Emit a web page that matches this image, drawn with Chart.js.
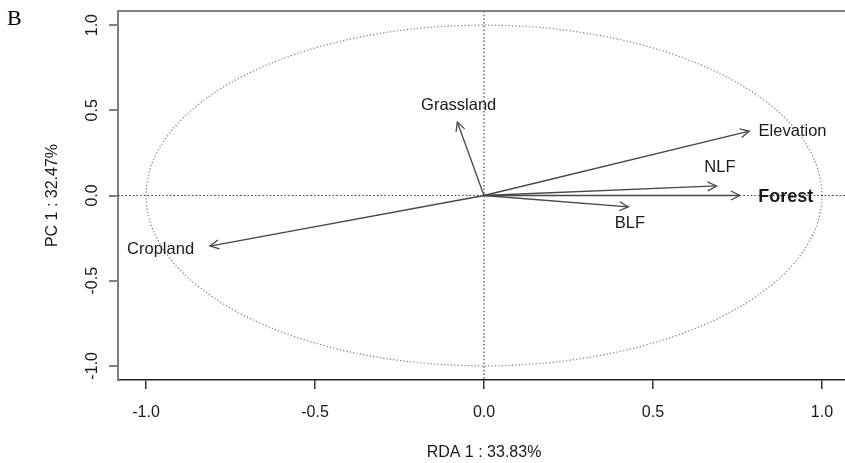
<!DOCTYPE html>
<html>
<head>
<meta charset="utf-8">
<script src="https://cdn.jsdelivr.net/npm/chart.js@4"></script>
<style>
  html, body { margin: 0; padding: 0; background: #fff; }
  #wrap { width: 845px; height: 463px; overflow: hidden; position: relative; }
  #inner { width: 852px; height: 463px; }
</style>
</head>
<body>
<div id="wrap"><div id="inner"><canvas id="c" width="852" height="463"></canvas></div></div>
<script>
// ---- data ----
const categories = ['Elevation', 'NLF', 'Forest', 'BLF', 'Grassland', 'Cropland'];
const arrowX = [0.785, 0.688, 0.757, 0.427, -0.079, -0.811];
const arrowY = [0.378, 0.056, 0.000, -0.067, 0.431, -0.297];
const labelX = [0.913, 0.698, 0.893, 0.432, -0.075, -0.957];
const labelY = [0.377, 0.163, -0.010, -0.165, 0.526, -0.315];
const boldCategories = ['Forest'];
const tickValues = [-1.0, -0.5, 0.0, 0.5, 1.0];
const tickLabels = ['-1.0', '-0.5', '0.0', '0.5', '1.0'];
const axisMin = -1.083;
const axisMax = 1.083;
const circleRadius = 1;
const xTitle = 'RDA 1 : 33.83%';
const yTitle = 'PC 1 : 32.47%';
const panelLabel = 'B';

const FONT = '"Liberation Sans", Arial, sans-serif';
const TEXT = '#1a1a1a';

const datasets = categories.map((c, i) => ({
  label: c,
  data: [{ x: 0, y: 0 }, { x: arrowX[i], y: arrowY[i] }],
  showLine: true,
  borderColor: '#474747',
  borderWidth: 1.3,
  pointRadius: 0,
  fill: false
}));

const setTicks = (scale) => { scale.ticks = tickValues.map(v => ({ value: v })); };

const decorPlugin = {
  id: 'decor',
  beforeDatasetsDraw(chart) {
    const { ctx, chartArea: a, scales: { x, y } } = chart;
    const cx = x.getPixelForValue(0), cy = y.getPixelForValue(0);
    ctx.save();
    // correlation circle
    ctx.beginPath();
    ctx.setLineDash([1.2, 2.2]);
    ctx.lineWidth = 1.2;
    ctx.strokeStyle = '#7a7a7a';
    ctx.ellipse(cx, cy, x.getPixelForValue(circleRadius) - cx, cy - y.getPixelForValue(circleRadius), 0, 0, Math.PI * 2);
    ctx.stroke();
    // zero lines
    ctx.strokeStyle = '#333';
    ctx.lineWidth = 1.1;
    ctx.setLineDash([1.5, 2.2]);
    ctx.beginPath();
    ctx.moveTo(a.left, cy); ctx.lineTo(a.right, cy);
    ctx.moveTo(cx, a.top); ctx.lineTo(cx, a.bottom);
    ctx.stroke();
    ctx.restore();
  },
  afterDatasetsDraw(chart) {
    const { ctx, scales: { x, y } } = chart;
    ctx.save();
    // arrow heads
    ctx.strokeStyle = '#474747';
    ctx.lineWidth = 1.3;
    ctx.setLineDash([]);
    categories.forEach((c, i) => {
      const x0 = x.getPixelForValue(0), y0 = y.getPixelForValue(0);
      const x1 = x.getPixelForValue(arrowX[i]), y1 = y.getPixelForValue(arrowY[i]);
      const ang = Math.atan2(y1 - y0, x1 - x0);
      const L = 10, t = 27 * Math.PI / 180;
      ctx.beginPath();
      ctx.moveTo(x1 - L * Math.cos(ang - t), y1 - L * Math.sin(ang - t));
      ctx.lineTo(x1, y1);
      ctx.lineTo(x1 - L * Math.cos(ang + t), y1 - L * Math.sin(ang + t));
      ctx.stroke();
    });
    // labels
    ctx.fillStyle = TEXT;
    ctx.textAlign = 'center';
    ctx.textBaseline = 'middle';
    categories.forEach((c, i) => {
      ctx.font = boldCategories.includes(c) ? 'bold 18px ' + FONT : '16.5px ' + FONT;
      ctx.fillText(c, x.getPixelForValue(labelX[i]), y.getPixelForValue(labelY[i]));
    });
    ctx.restore();
  },
  afterDraw(chart) {
    const { ctx, chartArea: a, scales: { x, y } } = chart;
    ctx.save();
    // top border
    ctx.strokeStyle = '#808080';
    ctx.lineWidth = 2;
    ctx.beginPath();
    ctx.moveTo(a.left - 1, a.top); ctx.lineTo(a.right, a.top);
    ctx.stroke();
    ctx.fillStyle = TEXT;
    ctx.font = '16px ' + FONT;
    // x tick labels
    ctx.textAlign = 'center';
    ctx.textBaseline = 'alphabetic';
    x.ticks.forEach((t) => {
      const idx = tickValues.indexOf(t.value);
      ctx.fillText(tickLabels[idx], x.getPixelForValue(t.value), 417);
    });
    // y tick labels (rotated)
    y.ticks.forEach((t) => {
      const idx = tickValues.indexOf(t.value);
      ctx.save();
      ctx.translate(97, y.getPixelForValue(t.value));
      ctx.rotate(-Math.PI / 2);
      ctx.fillText(tickLabels[idx], 0, 0);
      ctx.restore();
    });
    // axis titles
    ctx.fillText(xTitle, x.getPixelForValue(0), 457);
    ctx.save();
    ctx.translate(57, y.getPixelForValue(0));
    ctx.rotate(-Math.PI / 2);
    ctx.fillText(yTitle, 0, 0);
    ctx.restore();
    // panel label
    ctx.textAlign = 'left';
    ctx.font = '22px "Liberation Serif", "Times New Roman", serif';
    ctx.fillStyle = '#000';
    ctx.fillText(panelLabel, 7, 25);
    ctx.restore();
  }
};

new Chart(document.getElementById('c'), {
  type: 'scatter',
  data: { datasets },
  options: {
    responsive: false,
    animation: false,
    events: [],
    layout: { padding: { left: 0, top: 11, right: 2, bottom: 0 } },
    plugins: { legend: { display: false }, tooltip: { enabled: false } },
    scales: {
      x: {
        type: 'linear',
        min: axisMin, max: axisMax,
        afterBuildTicks: setTicks,
        afterFit: (s) => { s.height = 83; },
        ticks: { display: false },
        grid: { drawOnChartArea: false, drawTicks: true, tickLength: 9, tickColor: '#333', lineWidth: 1.5 },
        border: { display: true, color: '#222', width: 1.6 }
      },
      y: {
        type: 'linear',
        min: axisMin, max: axisMax,
        afterBuildTicks: setTicks,
        afterFit: (s) => { s.width = 118; },
        ticks: { display: false },
        grid: { drawOnChartArea: false, drawTicks: true, tickLength: 9, tickColor: '#808080', lineWidth: 2 },
        border: { display: true, color: '#808080', width: 2 }
      }
    }
  },
  plugins: [decorPlugin]
});
</script>
</body>
</html>
